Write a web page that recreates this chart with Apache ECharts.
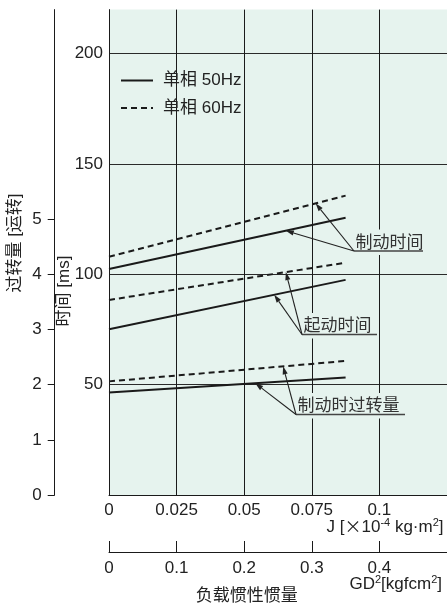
<!DOCTYPE html>
<html>
<head>
<meta charset="utf-8">
<script src="https://cdn.jsdelivr.net/npm/echarts@6/dist/echarts.min.js"></script>
<style>
html, body { margin: 0; padding: 0; background: #ffffff; }
#chart { width: 447px; height: 605px; }
</style>
</head>
<body>
<div id="chart"></div>
<script>
// Load inertia J [x10^-4 kg·m²] at both ends of every characteristic line
const inertiaJ = [0, 0.0875];
// Brake time [ms]
const brakeTime50 = [102.4, 125.7];
const brakeTime60 = [108.0, 135.7];
// Start time [ms]
const startTime50 = [75.1, 97.5];
const startTime60 = [88.4, 105.3];
// Overrun while braking [rev]
const overrun50 = [1.86, 2.13];
const overrun60 = [2.06, 2.43];

// Tick labels
const timeTicks = [50, 100, 150, 200];
const revTicks = [0, 1, 2, 3, 4, 5];
const jTicks = [0, 0.025, 0.05, 0.075, 0.1];
const gdTicks = [0, 0.1, 0.2, 0.3, 0.4];
const seriesNames = ['单相 50Hz', '单相 60Hz'];

const FONT = '"Liberation Sans", "Noto Sans CJK SC", Arial, sans-serif';
const CJK = '"Noto Sans CJK SC", "Liberation Sans", sans-serif';
const INK = '#1a1a1a';
const TEXT = '#222222';
const PLOT_BG = '#e6f3ee';

const pairs = (xs, ys) => xs.map((x, i) => [x, ys[i]]);
const solidStyle = { type: 'solid', width: 2, color: INK };
const dashStyle = { type: [6, 4], width: 2, color: INK };

function makeLine(name, ys, yAxisIndex, style) {
  return {
    name: name,
    type: 'line',
    xAxisIndex: 0,
    yAxisIndex: yAxisIndex,
    data: pairs(inertiaJ, ys),
    symbol: 'none',
    silent: true,
    lineStyle: style,
    itemStyle: { color: INK },
    z: 3
  };
}

const labelStyle = { fontSize: 17, color: TEXT, fontFamily: FONT };

const option = {
  animation: false,
  backgroundColor: '#ffffff',
  grid: {
    left: 109, top: 9.6, right: -3.5, bottom: 110,
    show: true, backgroundColor: PLOT_BG, borderWidth: 0
  },
  legend: {
    orient: 'vertical',
    left: 120,
    top: 72,
    padding: 0,
    itemWidth: 32,
    itemHeight: 14,
    itemGap: 10.6,
    data: seriesNames,
    selectedMode: false,
    itemStyle: { opacity: 0 },
    textStyle: { fontSize: 17, color: TEXT, fontFamily: FONT, padding: [0, 0, 0, 5] }
  },
  xAxis: [
    {
      type: 'value', min: 0, max: 0.125, interval: 0.025, position: 'bottom',
      axisLine: { show: true, onZero: false, lineStyle: { color: INK, width: 1 } },
      axisTick: { show: false },
      splitLine: { show: true, showMinLine: false, showMaxLine: false,
                   lineStyle: { color: INK, width: 1 } },
      axisLabel: Object.assign({ customValues: jTicks, margin: 7,
                                 formatter: v => String(v) }, labelStyle)
    },
    {
      type: 'value', min: 0, max: 0.5, interval: 0.1, position: 'bottom', offset: 57,
      axisLine: { show: true, onZero: false, lineStyle: { color: INK, width: 1 } },
      axisTick: { show: true, inside: true, length: 11, customValues: gdTicks,
                  lineStyle: { color: INK, width: 1 } },
      splitLine: { show: false },
      axisLabel: Object.assign({ customValues: gdTicks, margin: 8,
                                 formatter: v => String(v) }, labelStyle)
    }
  ],
  yAxis: [
    {
      type: 'value', min: 0, max: 220, interval: 50, position: 'left',
      axisLine: { show: true, onZero: false, lineStyle: { color: INK, width: 1 } },
      axisTick: { show: false },
      splitLine: { show: true, showMinLine: false, showMaxLine: false,
                   lineStyle: { color: '#2a2a2a', width: 1 } },
      axisLabel: Object.assign({ customValues: timeTicks, margin: 6 }, labelStyle)
    },
    {
      type: 'value', min: 0, max: 8.8, interval: 1, position: 'left', offset: 54.3,
      axisLine: { show: true, onZero: false, lineStyle: { color: INK, width: 1 } },
      axisTick: { show: true, customValues: revTicks, length: 7,
                  lineStyle: { color: INK, width: 1 } },
      splitLine: { show: false },
      axisLabel: Object.assign({ customValues: revTicks, margin: 13 }, labelStyle)
    }
  ],
  series: [
    makeLine(seriesNames[0], brakeTime50, 0, solidStyle),
    makeLine(seriesNames[1], brakeTime60, 0, dashStyle),
    makeLine(seriesNames[0], startTime50, 0, solidStyle),
    makeLine(seriesNames[1], startTime60, 0, dashStyle),
    makeLine(seriesNames[0], overrun50, 1, solidStyle),
    makeLine(seriesNames[1], overrun60, 1, dashStyle)
  ]
};

const chart = echarts.init(document.getElementById('chart'));
chart.setOption(option);

// Value of a straight characteristic line at inertia x
function valueAt(ys, x) {
  const t = (x - inertiaJ[0]) / (inertiaJ[1] - inertiaJ[0]);
  return ys[0] + t * (ys[1] - ys[0]);
}

// Callouts: caption box with underline, arrows pointing at the lines they name
const callouts = [
  { text: '制动时间', x0: 354, x1: 423, cy: 241.5, uy: 251,
    targets: [[brakeTime60, 0.0764, 0], [brakeTime50, 0.0654, 0]] },
  { text: '起动时间', x0: 302, x1: 377, cy: 325, uy: 334.5,
    targets: [[startTime60, 0.0654, 0], [startTime50, 0.0611, 0]] },
  { text: '制动时过转量', x0: 296, x1: 405, cy: 405, uy: 414.5,
    targets: [[overrun60, 0.0644, 1], [overrun50, 0.0541, 1]] }
];

const graphics = [];
callouts.forEach(c => {
  graphics.push({
    type: 'rect', z: 40, silent: true,
    shape: { x: c.x0 + 2, y: c.cy - 12, width: c.x1 - c.x0 - 2, height: c.uy - c.cy + 16 },
    style: { fill: PLOT_BG }
  });
  graphics.push({
    type: 'text', z: 41, silent: true,
    x: c.x0 + 1.5, y: c.cy,
    style: { text: c.text, font: '17px ' + CJK, fill: '#333333',
             textAlign: 'left', textVerticalAlign: 'middle' }
  });
  graphics.push({
    type: 'line', z: 41, silent: true,
    shape: { x1: c.x0, y1: c.uy, x2: c.x1, y2: c.uy },
    style: { stroke: '#444444', lineWidth: 1.5 }
  });
  c.targets.forEach(t => {
    const p = chart.convertToPixel({ xAxisIndex: 0, yAxisIndex: t[2] }, [t[1], valueAt(t[0], t[1])]);
    const sx = c.x0, sy = c.uy;
    const dx = p[0] - sx, dy = p[1] - sy;
    const len = Math.sqrt(dx * dx + dy * dy);
    const ux = dx / len, uy = dy / len;
    const headLen = 8, half = 2.6;
    const bx = p[0] - ux * headLen, by = p[1] - uy * headLen;
    graphics.push({
      type: 'line', z: 42, silent: true,
      shape: { x1: sx, y1: sy, x2: bx, y2: by },
      style: { stroke: '#222222', lineWidth: 1.1 }
    });
    graphics.push({
      type: 'polygon', z: 42, silent: true,
      shape: { points: [[p[0], p[1]],
                        [bx - uy * half, by + ux * half],
                        [bx + uy * half, by - ux * half]] },
      style: { fill: '#222222' }
    });
  });
});

const supRich = {
  sup: { fontSize: 11, lineHeight: 20, verticalAlign: 'top', fontFamily: FONT, fill: TEXT },
  cross: { fontSize: 17, lineHeight: 20, fontFamily: CJK, fill: TEXT }
};

// Axis titles
graphics.push({
  type: 'text', z: 20, silent: true, x: 15, y: 243, rotation: Math.PI / 2,
  style: { text: '过转量 [运转]', font: '17px ' + FONT, fill: TEXT,
           textAlign: 'center', textVerticalAlign: 'middle' }
});
graphics.push({
  type: 'text', z: 20, silent: true, x: 64.5, y: 291, rotation: Math.PI / 2,
  style: { text: '时间 [ms]', font: '17px ' + FONT, fill: TEXT,
           textAlign: 'center', textVerticalAlign: 'middle' }
});
graphics.push({
  type: 'text', z: 20, silent: true, x: 443.5, y: 527,
  style: {
    text: 'J [{cross|×}10{sup|-4} kg·m{sup|2}]', font: '17px ' + FONT, fill: TEXT,
    textAlign: 'right', textVerticalAlign: 'middle', lineHeight: 20,
    rich: supRich
  }
});
graphics.push({
  type: 'text', z: 20, silent: true, x: 442, y: 584,
  style: {
    text: 'GD{sup|2}[kgfcm{sup|2}]', font: '17px ' + FONT, fill: TEXT,
    textAlign: 'right', textVerticalAlign: 'middle', lineHeight: 20,
    rich: supRich
  }
});
graphics.push({
  type: 'text', z: 20, silent: true, x: 246.7, y: 595,
  style: { text: '负载惯性惯量', font: '17px ' + CJK, fill: TEXT,
           textAlign: 'center', textVerticalAlign: 'middle' }
});

chart.setOption({ graphic: { elements: graphics } });
</script>
</body>
</html>
